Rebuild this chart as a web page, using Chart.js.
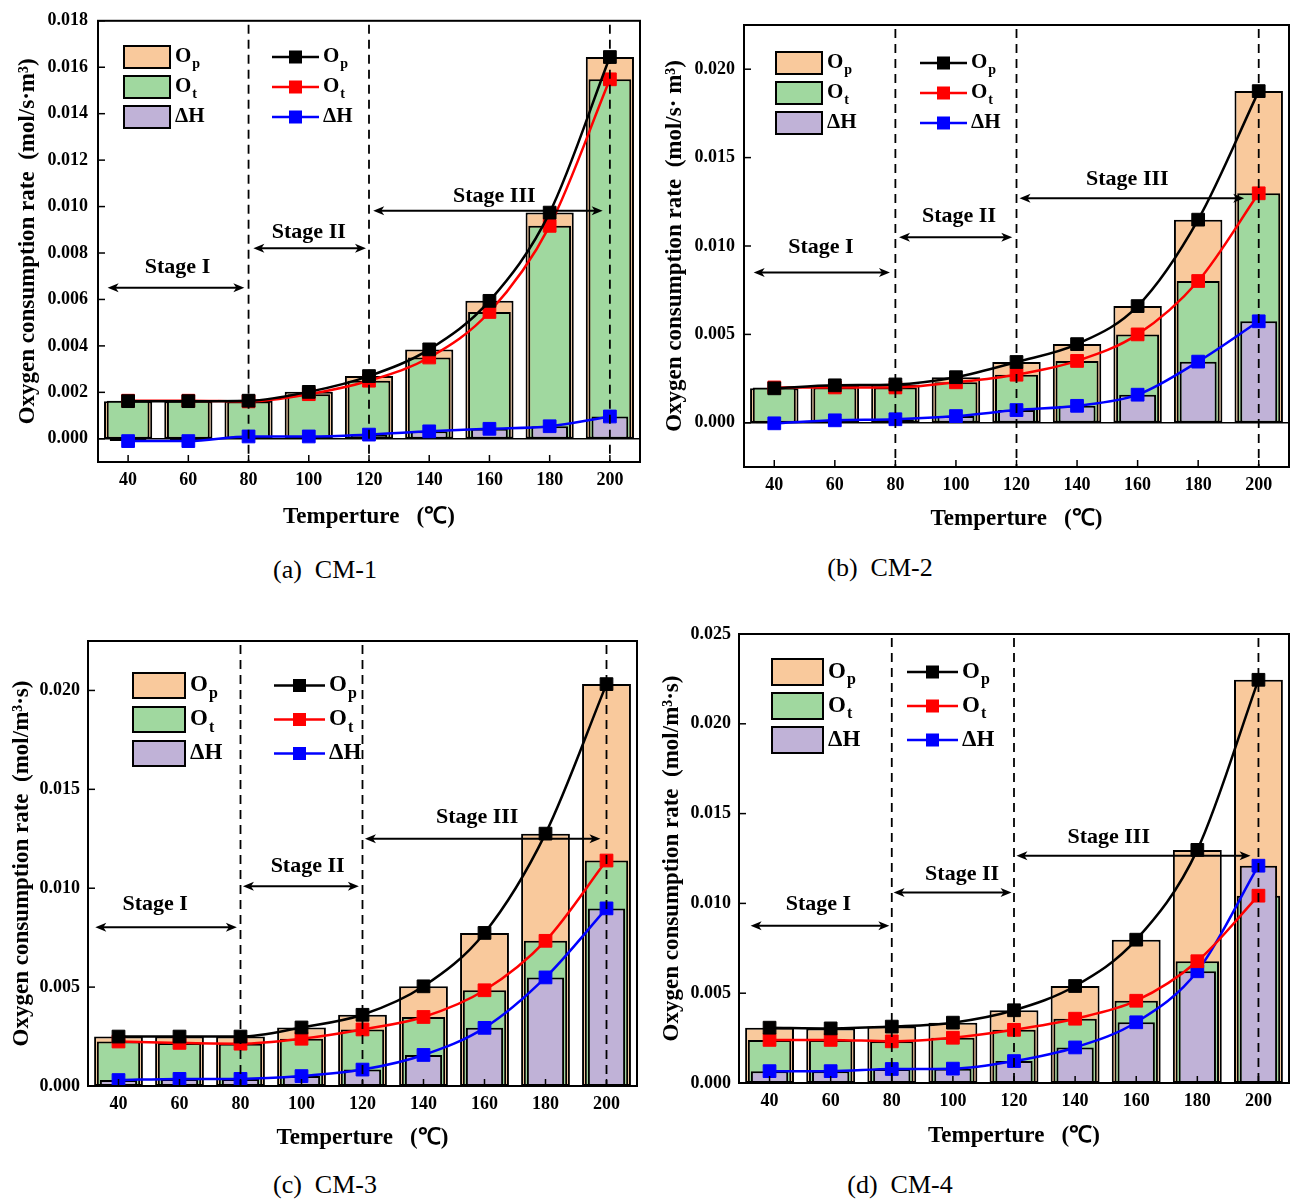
<!DOCTYPE html>
<html>
<head>
<meta charset="utf-8">
<script src="https://cdn.jsdelivr.net/npm/chart.js@4.4.1/dist/chart.umd.min.js"></script>
<style>
  body { margin: 0; background: #fff; width: 1299px; height: 1202px; position: relative; overflow: hidden; font-family: "Liberation Serif", "Times New Roman", serif; }
  .panel { position: absolute; }
  .cap { position: absolute; font-size: 26px; transform: translateX(-50%); white-space: pre; color: #000; }
</style>
</head>
<body>
<div class="panel" style="left:0;top:0;width:650px;height:540px"><canvas id="cA"></canvas></div>
<div class="panel" style="left:650px;top:0;width:649px;height:540px"><canvas id="cB"></canvas></div>
<div class="panel" style="left:0;top:600px;width:650px;height:560px"><canvas id="cC"></canvas></div>
<div class="panel" style="left:650px;top:600px;width:649px;height:560px"><canvas id="cD"></canvas></div>
<div class="cap" style="left:325px;top:555px">(a)  CM-1</div>
<div class="cap" style="left:880px;top:553px">(b)  CM-2</div>
<div class="cap" style="left:325px;top:1170px">(c)  CM-3</div>
<div class="cap" style="left:900px;top:1170px">(d)  CM-4</div>
<script>
const temps = ['40', '60', '80', '100', '120', '140', '160', '180', '200'];

// CM-1
const opA = [0.00162, 0.00162, 0.00164, 0.00202, 0.0027, 0.00385, 0.00594, 0.00974, 0.01644];
const otA = [0.00164, 0.00164, 0.00161, 0.00192, 0.0025, 0.0035, 0.00546, 0.00917, 0.01548];
const dhA = [-0.0001, -0.0001, 0.0001, 0.0001, 0.00018, 0.00032, 0.00043, 0.00054, 0.00096];
const yTicksA = [0, 0.002, 0.004, 0.006, 0.008, 0.010, 0.012, 0.014, 0.016, 0.018];

// CM-2
const opB = [0.00195, 0.00212, 0.00217, 0.00258, 0.00344, 0.00445, 0.0066, 0.01149, 0.01876];
const otB = [0.002, 0.002, 0.002, 0.00229, 0.00272, 0.0035, 0.005, 0.00802, 0.01298];
const dhB = [-0.00003, 0.00014, 0.0002, 0.00038, 0.00072, 0.00096, 0.00159, 0.00346, 0.00574];
const yTicksB = [0, 0.005, 0.010, 0.015, 0.020];

// CM-3
const opC = [0.0025, 0.0025, 0.0025, 0.00296, 0.0036, 0.00504, 0.00774, 0.01276, 0.02032];
const otC = [0.00225, 0.00218, 0.00214, 0.00239, 0.00286, 0.00349, 0.00484, 0.00734, 0.0114];
const dhC = [0.0003, 0.00036, 0.00036, 0.0005, 0.00083, 0.00157, 0.00294, 0.00549, 0.00898];
const yTicksC = [0, 0.005, 0.010, 0.015, 0.020];

// CM-4
const opD = [0.00308, 0.00304, 0.00314, 0.00336, 0.00405, 0.0054, 0.00798, 0.01298, 0.02245];
const otD = [0.0024, 0.0024, 0.00232, 0.00252, 0.00296, 0.00358, 0.00458, 0.00678, 0.01043];
const dhD = [0.00066, 0.00066, 0.00078, 0.0008, 0.00122, 0.00198, 0.00338, 0.00622, 0.0121];
const yTicksD = [0, 0.005, 0.010, 0.015, 0.020, 0.025];

const stageNames = ['Stage I', 'Stage II', 'Stage III'];
const stageLines = [2, 4, 8]; // 80, 120, 200 ℃

const FONT = '"Liberation Serif", "Times New Roman", serif';
const fillOp = '#f9c99c';
const fillOt = '#a0d89f';
const fillDh = '#c0b2d7';
const lineCols = ['#000000', '#ff0000', '#0000ff'];

function arrowHead(ctx, x, y, dir) {
  ctx.beginPath();
  ctx.moveTo(x, y);
  ctx.lineTo(x - dir * 11, y - 4.5);
  ctx.lineTo(x - dir * 8, y);
  ctx.lineTo(x - dir * 11, y + 4.5);
  ctx.closePath();
  ctx.fill();
}

function subText(ctx, x, y, main, sub, size) {
  ctx.font = 'bold ' + size + 'px ' + FONT;
  ctx.textAlign = 'left';
  ctx.textBaseline = 'middle';
  ctx.fillText(main, x, y);
  if (sub) {
    const w = ctx.measureText(main).width;
    ctx.font = 'bold ' + Math.round(size * 0.68) + 'px ' + FONT;
    ctx.fillText(sub, x + w + 1, y + size * 0.35);
  }
}

const decor = {
  id: 'decor',
  beforeDatasetsDraw(chart) {
    const { ctx, chartArea: a, scales: { y } } = chart;
    if (y.min < 0) {
      const py = y.getPixelForValue(0);
      ctx.save();
      ctx.strokeStyle = '#000';
      ctx.lineWidth = 1.5;
      ctx.beginPath();
      ctx.moveTo(a.left, py);
      ctx.lineTo(a.right, py);
      ctx.stroke();
      ctx.restore();
    }
  },
  afterDatasetsDraw(chart, args, o) {
    const { ctx, chartArea: a, scales: { x, y } } = chart;
    ctx.save();
    // dashed stage boundaries
    ctx.strokeStyle = '#000';
    ctx.lineWidth = 1.8;
    ctx.setLineDash([9, 6]);
    stageLines.forEach(i => {
      const px = x.getPixelForValue(i);
      ctx.beginPath();
      ctx.moveTo(px, a.top + 4);
      ctx.lineTo(px, a.bottom);
      ctx.stroke();
    });
    ctx.setLineDash([]);
    // arrows + labels
    ctx.fillStyle = '#000';
    ctx.lineWidth = 2;
    o.arrows.forEach((ar, k) => {
      const x1 = x.getPixelForValue(ar[0]);
      const x2 = x.getPixelForValue(ar[1]);
      const py = y.getPixelForValue(ar[2]);
      ctx.beginPath();
      ctx.moveTo(x1 + 6, py);
      ctx.lineTo(x2 - 6, py);
      ctx.stroke();
      arrowHead(ctx, x1, py, -1);
      arrowHead(ctx, x2, py, 1);
      const lb = o.labels[k];
      ctx.font = 'bold ' + o.stageSize + 'px ' + FONT;
      ctx.textAlign = 'center';
      ctx.textBaseline = 'middle';
      ctx.fillText(stageNames[k], x.getPixelForValue(lb[0]), y.getPixelForValue(lb[1]));
    });
    ctx.restore();
  },
  afterDraw(chart, args, o) {
    const { ctx, chartArea: a, scales: { x, y } } = chart;
    ctx.save();
    ctx.strokeStyle = '#000';
    ctx.lineWidth = 2;
    ctx.strokeRect(a.left, a.top, a.right - a.left, a.bottom - a.top);
    ctx.lineWidth = 1.5;
    y.ticks.forEach(t => {
      const py = y.getPixelForValue(t.value);
      ctx.beginPath();
      ctx.moveTo(a.left, py);
      ctx.lineTo(a.left + 7, py);
      ctx.stroke();
    });
    temps.forEach((t, i) => {
      const px = x.getPixelForValue(i);
      ctx.beginPath();
      ctx.moveTo(px, a.bottom);
      ctx.lineTo(px, a.bottom - 7);
      ctx.stroke();
    });
    // legend
    const L = o.legend;
    const names = [['O', 'p'], ['O', 't'], ['ΔH', '']];
    const fills = [fillOp, fillOt, fillDh];
    names.forEach((n, i) => {
      const by = L.y + i * L.gap;
      const cy = by + L.h / 2;
      ctx.fillStyle = fills[i];
      ctx.fillRect(L.x, by, L.w, L.h);
      ctx.strokeStyle = '#000';
      ctx.lineWidth = 2;
      ctx.strokeRect(L.x, by, L.w, L.h);
      ctx.fillStyle = '#000';
      subText(ctx, L.x + L.w + 5, cy, n[0], n[1], L.size);
      ctx.strokeStyle = lineCols[i];
      ctx.lineWidth = 2.5;
      ctx.beginPath();
      ctx.moveTo(L.lx1, cy);
      ctx.lineTo(L.lx2, cy);
      ctx.stroke();
      ctx.fillStyle = lineCols[i];
      const mx = (L.lx1 + L.lx2) / 2;
      ctx.fillRect(mx - 6.5, cy - 6.5, 13, 13);
      ctx.fillStyle = '#000';
      subText(ctx, L.lx2 + 4, cy, n[0], n[1], L.size);
    });
    ctx.restore();
  }
};

function makeChart(id, c) {
  const lineDs = (data, col, order) => ({
    type: 'line', data: data, borderColor: col, backgroundColor: col,
    borderWidth: 2.5, pointStyle: 'rect', pointRadius: 9, pointBorderWidth: 1,
    pointBackgroundColor: col, pointBorderColor: col,
    cubicInterpolationMode: 'monotone', order: order
  });
  const barDs = (data, col, pct, order) => ({
    type: 'bar', data: data, backgroundColor: col, borderColor: '#000',
    borderWidth: 2, borderSkipped: false, grouped: false,
    barPercentage: pct, categoryPercentage: 1, order: order
  });
  new Chart(document.getElementById(id), {
    type: 'bar',
    data: {
      labels: temps,
      datasets: [
        barDs(c.op, fillOp, 0.8, 6),
        barDs(c.ot, fillOt, 0.71, 5),
        barDs(c.dh, fillDh, 0.61, 4),
        lineDs(c.dh, lineCols[2], 2),
        lineDs(c.ot, lineCols[1], 1),
        lineDs(c.op, lineCols[0], 0)
      ]
    },
    options: {
      responsive: true,
      maintainAspectRatio: false,
      animation: false,
      layout: { padding: { top: c.padTop, right: c.padRight, left: 0, bottom: 0 } },
      plugins: {
        legend: { display: false },
        tooltip: { enabled: false },
        decor: { arrows: c.arrows, labels: c.labels, legend: c.legend, stageSize: 22 }
      },
      scales: {
        x: {
          offset: true,
          afterFit: s => { s.height = c.xh; },
          grid: { display: false, drawTicks: false },
          border: { display: false },
          ticks: { color: '#000', padding: 8, maxRotation: 0, font: { family: FONT, size: 18, weight: 'bold' } },
          title: {
            display: true, text: 'Temperture   (℃)', color: '#000',
            font: { family: FONT, size: 23, weight: 'bold' },
            padding: { top: 0, bottom: c.xTitlePad }
          }
        },
        y: {
          min: c.ymin, max: c.ymax,
          afterBuildTicks: s => { s.ticks = c.yTicks.map(v => ({ value: v })); },
          afterFit: s => { s.width = c.yw; },
          grid: { display: false, drawTicks: false },
          border: { display: false },
          ticks: {
            color: '#000', padding: c.yTickPad,
            font: { family: FONT, size: 18, weight: 'bold' },
            callback: v => v.toFixed(3)
          },
          title: {
            display: true, text: c.yTitle, color: '#000',
            font: { family: FONT, size: 23, weight: 'bold' },
            padding: { top: c.yTitlePad, bottom: 0 }
          }
        }
      }
    },
    plugins: [decor]
  });
}

makeChart('cA', {
  op: opA, ot: otA, dh: dhA, yTicks: yTicksA, ymin: -0.001, ymax: 0.018,
  yTitle: 'Oxygen consumption rate  (mol/s·m³)',
  padTop: 16, padRight: 5, yw: 98, xh: 78, xTitlePad: 9, yTickPad: 10, yTitlePad: 14,
  arrows: [[-0.34, 1.93, 0.0065], [2.08, 3.95, 0.0082], [4.07, 7.88, 0.00982]],
  labels: [[0.82, 0.0074], [3.0, 0.0089], [6.08, 0.01044]],
  legend: { x: 124, y: 46, w: 46, h: 22, gap: 30, lx1: 272, lx2: 319, size: 21 }
});

makeChart('cB', {
  op: opB, ot: otB, dh: dhB, yTicks: yTicksB, ymin: -0.0025, ymax: 0.0225,
  yTitle: 'Oxygen consumption rate  (mol/s· m³)',
  padTop: 25, padRight: 4, yw: 94, xh: 73, xTitlePad: 7, yTickPad: 9, yTitlePad: 11,
  arrows: [[-0.34, 1.91, 0.0085], [2.06, 3.93, 0.0105], [4.05, 7.76, 0.0127]],
  labels: [[0.77, 0.0099], [3.05, 0.0117], [5.83, 0.0138]],
  legend: { x: 126, y: 52, w: 46, h: 22, gap: 30, lx1: 270, lx2: 317, size: 21 }
});

makeChart('cC', {
  op: opC, ot: otC, dh: dhC, yTicks: yTicksC, ymin: 0, ymax: 0.0225,
  yTitle: 'Oxygen consumption rate  (mol/m³·s)',
  padTop: 41, padRight: 13, yw: 88, xh: 74, xTitlePad: 8, yTickPad: 8, yTitlePad: 8,
  arrows: [[-0.38, 1.94, 0.00803], [2.04, 3.94, 0.0101], [4.04, 7.9, 0.0125]],
  labels: [[0.6, 0.0092], [3.1, 0.0111], [5.88, 0.0136]],
  legend: { x: 133, y: 73, w: 52, h: 25, gap: 34, lx1: 274, lx2: 325, size: 23 }
});

makeChart('cD', {
  op: opD, ot: otD, dh: dhD, yTicks: yTicksD, ymin: 0, ymax: 0.025,
  yTitle: 'Oxygen consumption rate  (mol/m³·s)',
  padTop: 34, padRight: 9, yw: 89, xh: 77, xTitlePad: 10, yTickPad: 8, yTitlePad: 8,
  arrows: [[-0.31, 1.96, 0.00876], [2.03, 3.96, 0.0106], [4.04, 7.87, 0.01266]],
  labels: [[0.8, 0.00996], [3.15, 0.0116], [5.55, 0.0137]],
  legend: { x: 122, y: 59, w: 51, h: 26, gap: 34, lx1: 257, lx2: 308, size: 23 }
});
</script>
</body>
</html>
